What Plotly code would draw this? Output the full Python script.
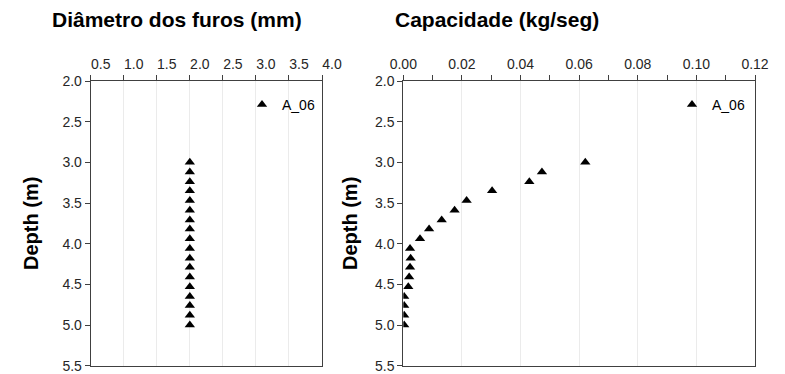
import plotly.graph_objects as go

depth_m = [3.00, 3.12, 3.24, 3.35, 3.47, 3.59, 3.71, 3.82, 3.94,
           4.06, 4.18, 4.29, 4.41, 4.53, 4.65, 4.76, 4.88, 5.00]
diametro_mm = [2.0, 2.0, 2.0, 2.0, 2.0, 2.0, 2.0, 2.0, 2.0,
               2.0, 2.0, 2.0, 2.0, 2.0, 2.0, 2.0, 2.0, 2.0]
capacidade = [0.0621, 0.0473, 0.0430, 0.0303, 0.0216, 0.0175, 0.0131, 0.0088, 0.0057,
              0.0023, 0.0025, 0.0023, 0.0020, 0.0017, 0.0003, 0.0003, 0.0003, 0.0003]
series_name = "A_06"
title_left = "Diâmetro dos furos (mm)"
title_right = "Capacidade (kg/seg)"
ytitle = "Depth (m)"

W, H = 785, 374
FONT = "Liberation Sans, Arial, sans-serif"
AX = "#404040"
TXT = "#262626"

def px_x(p):
    return p / W

def px_y(p):
    return (H - p) / H

fig = go.Figure()
fig.add_trace(go.Scatter(x=diametro_mm, y=depth_m, mode="markers", name=series_name,
                         marker=dict(symbol="triangle-up", size=9, color="black"),
                         xaxis="x", yaxis="y", legend="legend"))
fig.add_trace(go.Scatter(x=capacidade, y=depth_m, mode="markers", name=series_name,
                         marker=dict(symbol="triangle-up", size=9, color="black"),
                         xaxis="x2", yaxis="y2", legend="legend2"))

ydom = [px_y(365.7), px_y(81)]
common_x = dict(side="top", showline=True, linecolor=AX, linewidth=1, mirror=True,
                ticks="outside", ticklen=5, tickcolor=AX, showgrid=True,
                gridcolor="#ebebeb", gridwidth=1, zeroline=False, automargin=False,
                tickfont=dict(family=FONT, size=14, color=TXT))
common_y = dict(range=[5.5, 2.0], dtick=0.5, tickformat=".1f", showline=True,
                linecolor=AX, linewidth=1, mirror=True, ticks="outside", ticklen=5,
                tickcolor=AX, showgrid=False, zeroline=False, automargin=False,
                tickfont=dict(family=FONT, size=14, color=TXT))
ytitle_font = dict(family=FONT, size=20, color="black", weight="bold")

fig.update_layout(
    width=W, height=H,
    margin=dict(l=0, r=0, t=0, b=0, autoexpand=False),
    paper_bgcolor="white", plot_bgcolor="white",
    font=dict(family=FONT),
    xaxis=dict(common_x, domain=[px_x(90.7), px_x(322)], range=[0.5, 4.0], dtick=0.5,
               tick0=0.5, tickformat=".1f", anchor="y", ticklabelshift=10),
    yaxis=dict(common_y, domain=ydom, anchor="x",
               title=dict(text=ytitle, font=ytitle_font, standoff=18)),
    xaxis2=dict(common_x, domain=[px_x(403.3), px_x(755)], range=[0, 0.12], dtick=0.02,
                tick0=0, tickformat=".2f", anchor="y2",
                minor=dict(dtick=0.01, ticks="outside", ticklen=5, tickcolor=AX,
                           showgrid=False)),
    yaxis2=dict(common_y, domain=ydom, anchor="x2",
                title=dict(text=ytitle, font=ytitle_font, standoff=12)),
    legend=dict(x=px_x(320), y=px_y(89), xanchor="right", yanchor="top",
                bgcolor="rgba(0,0,0,0)", font=dict(family=FONT, size=14, color="black"),
                itemwidth=30),
    legend2=dict(x=px_x(750), y=px_y(89), xanchor="right", yanchor="top",
                 bgcolor="rgba(0,0,0,0)", font=dict(family=FONT, size=14, color="black"),
                 itemwidth=30),
    showlegend=True,
    annotations=[
        dict(text=title_left, x=px_x(50), y=px_y(20), xref="paper", yref="paper",
             xanchor="left", yanchor="middle", showarrow=False,
             font=dict(family=FONT, size=21, color="black", weight="bold")),
        dict(text=title_right, x=px_x(393), y=px_y(20), xref="paper", yref="paper",
             xanchor="left", yanchor="middle", showarrow=False,
             font=dict(family=FONT, size=21, color="black", weight="bold")),
    ],
)

fig.write_html("out.html", config={"displayModeBar": False},
               post_script="document.body.style.margin='0';document.body.style.overflow='hidden';")
